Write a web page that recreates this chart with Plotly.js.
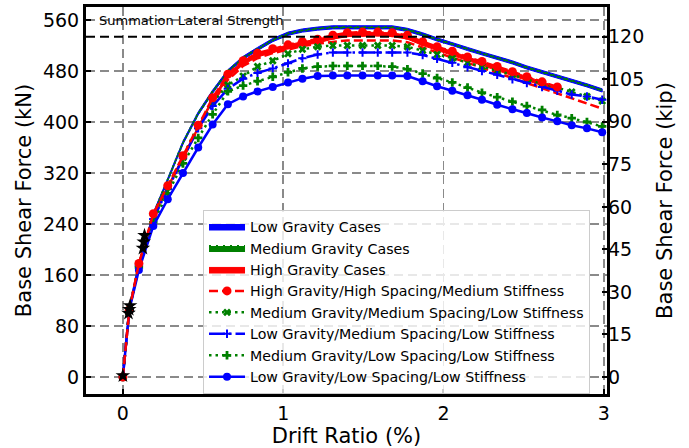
<!DOCTYPE html>
<html>
<head>
<meta charset="utf-8">
<script src="https://cdn.plot.ly/plotly-3.0.1.min.js"></script>
<style>html,body{margin:0;padding:0;background:#fff;}#chart{width:689px;height:448px;}</style>
</head>
<body>
<div id="chart"></div>
<script>
// ---- data (kN vs drift %) ----
const drift = [0, 0.04, 0.1, 0.19, 0.28, 0.375, 0.47, 0.56, 0.655, 0.75, 0.84, 0.935, 1.03, 1.12, 1.215, 1.31, 1.4, 1.495, 1.59, 1.68, 1.775, 1.87, 1.96, 2.055, 2.15, 2.24, 2.335, 2.43, 2.52, 2.615, 2.71, 2.8, 2.895, 2.99];

const lowGravBandHi = [0,107,180,258,312,370,416,450,482,503,517,531,541,546,549,551,551,551,551,551,547,540,532,525,517,510,503,496,488,481,474,467,460,452];
const lowGravBandLo = [0,103,175,253,307,365,411,445,477,498,512,526,536,541,544,546,546,546,546,546,542,535,527,520,512,505,498,491,483,476,469,462,455,447];
const medGravBandHi = [0,105,178,256,310,368,414,448,480,501,515,529,539,544,547,549,549,549,549,549,545,538,530,523,515,508,501,494,486,479,472,465,458,450];
const medGravBandLo = [0,104,177,255,309,367,413,447,479,500,514,528,538,543,546,548,548,548,548,548,544,537,529,522,514,507,500,493,485,478,471,464,457,449];
const highGravBandHi = [0,105,178,256,300,347,395,438,475,496,508,515,521,526,530,536,540,541,541,540,536,526,518,511,502,495,487,479,471,463,455];
const highGravBandLo = [0,101,173,251,295,341,389,432,469,490,502,509,515,520,524,530,534,535,535,534,530,520,512,505,496,489,481,473,465,457,449];

const highHighMed = [0,105,178,256,300,347,395,438,475,496,508,515,521,526,530,536,540,541,541,540,536,526,518,511,502,495,487,479,471,463,455];
const highHighMedLower = [0,105,176,252,296,342,390,430,466,488,500,508,514,519,523,526,528,528,528,528,525,517,509,501,493,485,477,469,461,453,445,437,429,421];
const medMedLow = [0,106,176,250,298,347,395,430,458,472,487,496,507,514,518,520,520,520,520,520,518,512,506,500,493,487,480,474,467,461,454,447,440,433];
const lowMedLow = [0,106,175,248,295,343,390,425,452,468,477,484,492,500,506,509,509,509,509,509,509,505,499,493,486,480,474,467,461,455,449,443,440,435];
const medLowLow = [0,106,172,243,288,335,375,412,448,457,464,471,478,484,487,488,488,488,488,487,483,476,469,462,454,446,439,432,425,419,411,406,400,393];
const lowLowLow = [0,105,168,237,279,320,360,396,428,440,448,455,462,468,472,473,473,473,473,473,472,464,456,449,442,435,427,420,414,407,401,395,390,384];

const yieldDrift = [0, 0.035, 0.04, 0.045, 0.125, 0.13, 0.135];
const yieldForce = [2, 100, 106, 112, 202, 212, 222];

const summationStrength = 533.8; // kN (120 kip)
const KN_PER_KIP = 4.448;
const yTicksKN = [0, 80, 160, 240, 320, 400, 480, 560];
const yTicksKip = [0, 15, 30, 45, 60, 75, 90, 105, 120];
const xTicks = [0, 1, 2, 3];

const xRange = [-0.23, 3.02];
const yRange = [-26.7, 580.4];

function band(xs, hi, lo) {
  const n = hi.length;
  const xx = xs.slice(0, n).concat(xs.slice(0, n).reverse());
  const yy = hi.concat(lo.slice().reverse());
  return {x: xx, y: yy};
}

const FONT = 'DejaVu Sans';
const BLUE = '#0000ff', GREEN = '#008000', RED = '#ff0000';

const bB = band(drift, lowGravBandHi, lowGravBandLo);
const gB = band(drift, medGravBandHi, medGravBandLo);
const rB = band(drift, highGravBandHi, highGravBandLo);

const traces = [
  {x: bB.x, y: bB.y, mode: 'lines', fill: 'toself', fillcolor: BLUE,
   line: {color: BLUE, width: 1}, name: 'Low Gravity Cases', legendrank: 1},
  {x: gB.x, y: gB.y, mode: 'lines', fill: 'toself', fillcolor: GREEN,
   line: {color: GREEN, width: 2, dash: '2px,5px'}, name: 'Medium Gravity Cases', legendrank: 2},
  {x: rB.x, y: rB.y, mode: 'lines', fill: 'toself', fillcolor: RED,
   line: {color: RED, width: 1}, name: 'High Gravity Cases', legendrank: 3},
  {x: drift, y: highHighMedLower, mode: 'lines', showlegend: false,
   line: {color: RED, width: 2.5, dash: '9px,4px'}, hoverinfo: 'skip'},
  {x: drift, y: medMedLow, mode: 'lines+markers', name: 'Medium Gravity/Medium Spacing/Low Stiffness', legendrank: 5,
   line: {color: GREEN, width: 2.5, dash: '2.5px,4px'},
   marker: {symbol: 'x', size: 7, color: GREEN}},
  {x: drift, y: lowMedLow, mode: 'lines+markers', name: 'Low Gravity/Medium Spacing/Low Stiffness', legendrank: 6,
   line: {color: BLUE, width: 2.5, dash: '16px,4px,2.5px,4px'},
   marker: {symbol: 'cross-thin', size: 6, color: BLUE, line: {color: BLUE, width: 2}}},
  {x: drift, y: medLowLow, mode: 'lines+markers', name: 'Medium Gravity/Low Spacing/Low Stiffness', legendrank: 7,
   line: {color: GREEN, width: 2.5, dash: '2.5px,4px'},
   marker: {symbol: 'cross', size: 7, color: GREEN}},
  {x: drift, y: lowLowLow, mode: 'lines+markers', name: 'Low Gravity/Low Spacing/Low Stiffness', legendrank: 8,
   line: {color: BLUE, width: 2.5},
   marker: {symbol: 'circle', size: 8, color: BLUE}},
  {x: drift.slice(0, highHighMed.length), y: highHighMed, mode: 'lines+markers', name: 'High Gravity/High Spacing/Medium Stiffness', legendrank: 4,
   line: {color: RED, width: 2.5, dash: '9px,4px'},
   marker: {symbol: 'circle', size: 9, color: RED}},
  {x: yieldDrift, y: yieldForce, mode: 'markers', showlegend: false,
   marker: {symbol: 'star', size: 11, color: '#000000'}},
  {x: [], y: [], yaxis: 'y2', showlegend: false, mode: 'markers'}
];

const layout = {
  width: 689, height: 448,
  margin: {l: 86, r: 82, t: 7, b: 54},
  paper_bgcolor: '#ffffff', plot_bgcolor: '#ffffff',
  font: {family: FONT, color: '#000000', size: 19},
  showlegend: true,
  xaxis: {
    range: xRange, tickvals: xTicks, ticktext: xTicks.map(String),
    showgrid: true, gridcolor: '#8a8a8a', gridwidth: 1.8, griddash: '9px,5px',
    zeroline: false, showline: true, linecolor: '#000000', linewidth: 3, mirror: true,
    ticks: 'inside', ticklen: 5, tickwidth: 2, tickcolor: '#000000',
    tickfont: {family: FONT, size: 19},
    title: {text: 'Drift Ratio (%)', font: {family: FONT, size: 21}, standoff: 2}
  },
  yaxis: {
    range: yRange, tickvals: yTicksKN, ticktext: yTicksKN.map(String),
    showgrid: true, gridcolor: '#8a8a8a', gridwidth: 1.8, griddash: '9px,5px',
    zeroline: false, showline: true, linecolor: '#000000', linewidth: 3, mirror: true,
    ticks: 'inside', ticklen: 5, tickwidth: 2, tickcolor: '#000000',
    tickfont: {family: FONT, size: 19},
    title: {text: 'Base Shear Force (kN)', font: {family: FONT, size: 21}, standoff: 6}
  },
  yaxis2: {
    overlaying: 'y', side: 'right',
    range: [yRange[0] / KN_PER_KIP, yRange[1] / KN_PER_KIP],
    tickvals: yTicksKip, ticktext: yTicksKip.map(String),
    showgrid: false, zeroline: false, showline: false,
    ticks: 'inside', ticklen: 5, tickwidth: 2, tickcolor: '#000000',
    tickfont: {family: FONT, size: 19},
    title: {text: 'Base Shear Force (kip)', font: {family: FONT, size: 21}, standoff: 14}
  },
  legend: {
    x: 0.2246, y: 0.476, xanchor: 'left', yanchor: 'top',
    bgcolor: 'rgba(255,255,255,0.8)', bordercolor: '#cccccc', borderwidth: 1,
    font: {family: FONT, size: 14.2, color: '#000000'},
    itemwidth: 36,
    traceorder: 'normal'
  },
  shapes: [{
    type: 'line', xref: 'paper', x0: 0, x1: 1, yref: 'y', y0: summationStrength, y1: summationStrength,
    line: {color: '#000000', width: 2, dash: '9px,5px'}, layer: 'above'
  }],
  annotations: [{
    xref: 'x', yref: 'y', x: -0.16, y: 560, xanchor: 'left', yanchor: 'middle',
    text: 'Summation Lateral Strength', showarrow: false,
    font: {family: FONT, size: 13, color: '#000000'}
  }]
};

Plotly.newPlot('chart', traces, layout, {displayModeBar: false, staticPlot: true});
</script>
</body>
</html>
